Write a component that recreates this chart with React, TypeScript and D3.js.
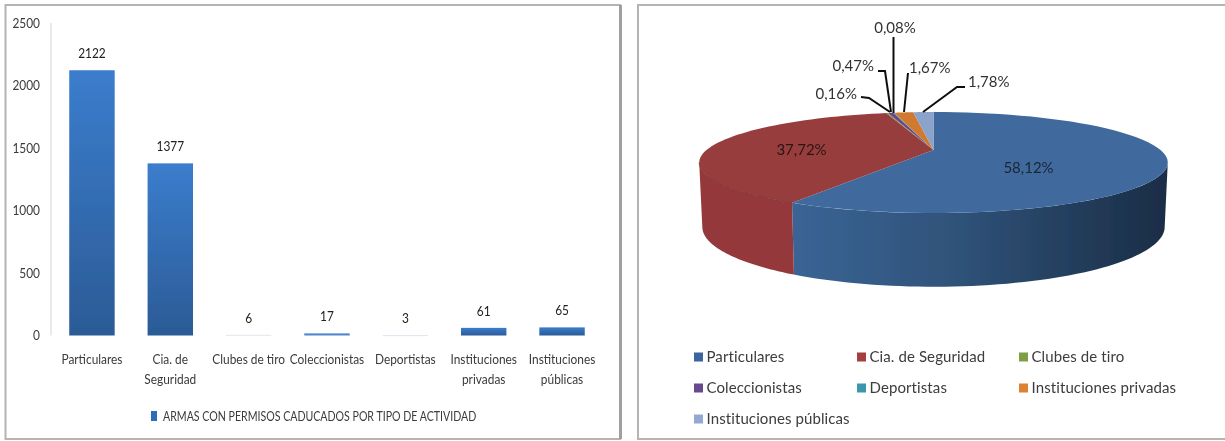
import React from "react";
import * as d3 from "d3";

const categories = ["Particulares", "Cia. de Seguridad", "Clubes de tiro", "Coleccionistas", "Deportistas", "Instituciones privadas", "Instituciones públicas"];
const barLabelLines = [["Particulares"], ["Cia. de", "Seguridad"], ["Clubes de tiro"], ["Coleccionistas"], ["Deportistas"], ["Instituciones", "privadas"], ["Instituciones", "públicas"]];
const values = [2122, 1377, 6, 17, 3, 61, 65];
const pieColors = ["#3f6a9e", "#983d3d", "#7f9a41", "#65478a", "#3c93ad", "#cf7a2e", "#8ba3cb"];
const legendColors = ["#3a659c", "#a33f3d", "#7f9d45", "#674a8e", "#3a96ae", "#dc8233", "#93a9d3"];
const yTicks = [0, 500, 1000, 1500, 2000, 2500];
const seriesName = "ARMAS CON PERMISOS CADUCADOS POR TIPO DE ACTIVIDAD";
const leaders: Record<number, { text: [number, number]; anchor: string; pts: [number, number][] }> = {
  2: { text: [857, 94], anchor: "end", pts: [[861, 97], [869, 98], [890, 112]] },
  3: { text: [874, 66], anchor: "end", pts: [[878, 71], [885, 71], [891, 112]] },
  4: { text: [895, 28], anchor: "middle", pts: [[893.5, 37], [893.5, 113]] },
  5: { text: [909, 68], anchor: "start", pts: [[908, 73], [904, 112]] },
  6: { text: [968, 82], anchor: "start", pts: [[965, 87], [957, 87], [923, 112]] },
};

const W = 1225, H = 441;
const font = "Lato, 'Open Sans', sans-serif";
const inkA = "#3a3a3a";
const SQUEEZE = 0.85;

const y = d3.scaleLinear().domain([0, 2500]).range([335.5, 23]);
const x = d3.scaleBand<number>().domain(d3.range(values.length)).range([52, 602]).paddingInner(0.42).paddingOuter(0.22);

const total = d3.sum(values);
const pie = d3.pie<number>().sort(null).startAngle(0).endAngle(2 * Math.PI)(values);
const K = 0.2476;
const project = (a: number, cx: number, cy: number, A: number, B: number): [number, number] => {
  const u = Math.sin(a), v = -Math.cos(a), w = 1 / (1 - K * v);
  return [cx + A * u * w, cy + B * v * w];
};
const topP = (a: number) => project(a, 933.5, 150, 227, 47.4);
const botP = (a: number) => project(a, 933.5, 212, 224, 56.25);
const line = d3.line();
const samples = (a: number, b: number) => d3.range(0, 61).map((i) => a + ((b - a) * i) / 60);
const topFace = (a: number, b: number) => line([[933.5, 150] as [number, number], ...samples(a, b).map(topP)]) + "Z";
const silhouette = Math.acos(-K);
const sideFace = (a: number, b: number) => {
  const lo = Math.max(a, silhouette), hi = Math.min(b, 2 * Math.PI - silhouette);
  if (hi <= lo) return "";
  const s = samples(lo, hi);
  return line([...s.map(topP), ...[...s].reverse().map(botP)]) + "Z";
};
const pct = (v: number) => ((v / total) * 100).toFixed(2).replace(".", ",") + "%";
const legendCols = [694, 857, 1019];
const legendRows = [357, 388, 419];

const Squeezed = ({ x: tx, y: ty, anchor, size = 14, fill = inkA, squeeze = SQUEEZE, children }: any) => (
  <text transform={`translate(${tx},${ty}) scale(${squeeze},1)`} dy="0.35em" textAnchor={anchor} fontFamily={font} fontSize={size} fill={fill}>{children}</text>
);

export default function App() {
  return (
    <svg width={W} height={H} viewBox={`0 0 ${W} ${H}`} style={{ position: "absolute", left: 0, top: 0, display: "block", background: "#fff" }}>
      <defs>
        <linearGradient id="bar" x1="0" x2="0" y1="0" y2="1">
          <stop offset="0" stopColor="#3b7dcd" />
          <stop offset="1" stopColor="#2b5b96" />
        </linearGradient>
        <linearGradient id="blueSide" gradientUnits="userSpaceOnUse" x1="793" x2="1165" y1="0" y2="0">
          <stop offset="0" stopColor="#3a6495" />
          <stop offset="0.45" stopColor="#2f5278" />
          <stop offset="1" stopColor="#1a2d46" />
        </linearGradient>
        <filter id="soft" x="-5%" y="-5%" width="110%" height="110%">
          <feGaussianBlur stdDeviation="0.6" />
        </filter>
      </defs>
      <g filter="url(#soft)">
        <rect x={5.5} y={5} width={614.5} height={434} fill="#fff" stroke="#b4b4b4" strokeWidth={2} />
        <line x1={620.5} x2={620.5} y1={5} y2={439} stroke="#a0a0a0" strokeWidth={3} />
        <rect x={638} y={5} width={600} height={434} fill="#fff" stroke="#b4b4b4" strokeWidth={2} />

        <line x1={51} x2={51} y1={y(2500)} y2={y(0)} stroke="#d4d4d4" />
        {yTicks.map((t) => (
          <Squeezed key={t} x={40} y={y(t)} anchor="end">{t}</Squeezed>
        ))}
        {values.map((v, i) => {
          const h = y(0) - y(v);
          const cx = x(i)! + x.bandwidth() / 2;
          return (
            <g key={i}>
              <rect x={x(i)} y={y(v)} width={x.bandwidth()} height={Math.max(h, 1)} fill={h < 1.5 ? "#dfe5ee" : h < 4 ? "#4f86cc" : "url(#bar)"} />
              <Squeezed x={cx} y={y(v) - 17} anchor="middle" fill="#222">{v}</Squeezed>
              {barLabelLines[i].map((l, j) => (
                <Squeezed key={j} x={cx} y={359 + j * 20} anchor="middle">{l}</Squeezed>
              ))}
            </g>
          );
        })}
        <rect x={151} y={411} width={6} height={10} fill="#2f6db8" />
        <Squeezed x={163} y={416} anchor="start" squeeze={0.758}>{seriesName}</Squeezed>

        {pie.map((d, i) => {
          const p = sideFace(d.startAngle, d.endAngle);
          return p ? <path key={i} d={p} fill={i === 0 ? "url(#blueSide)" : "#94393a"} /> : null;
        })}
        {pie.map((d, i) => (
          <path key={i} d={topFace(d.startAngle, d.endAngle)} fill={pieColors[i]} />
        ))}
        <path d={line(samples(pie[1].startAngle, 2 * Math.PI - silhouette).map(topP)) || ""} fill="none" stroke="#7c3030" strokeWidth={0.8} />
        <text x={1028.5} y={168} dy="0.35em" textAnchor="middle" fontFamily={font} fontSize={15} fill="#1c2533">{pct(values[0])}</text>
        <text x={801.5} y={150} dy="0.35em" textAnchor="middle" fontFamily={font} fontSize={15} fill="#2a1414">{pct(values[1])}</text>
        {Object.entries(leaders).map(([k, l]) => (
          <g key={k}>
            <path d={line(l.pts) || ""} fill="none" stroke="#111" strokeWidth={2} />
            <text x={l.text[0]} y={l.text[1]} dy="0.35em" textAnchor={l.anchor as "start"} fontFamily={font} fontSize={15} fill="#333">{pct(values[+k])}</text>
          </g>
        ))}
        {categories.map((c, i) => {
          const cx = legendCols[i % 3], cy = legendRows[Math.floor(i / 3)];
          return (
            <g key={c}>
              <rect x={cx} y={cy - 4.5} width={9} height={9} fill={legendColors[i]} />
              <text x={cx + 12.5} y={cy} dy="0.35em" fontFamily={font} fontSize={15} letterSpacing={0.1} fill="#3c3c3c">{c}</text>
            </g>
          );
        })}
      </g>
    </svg>
  );
}
